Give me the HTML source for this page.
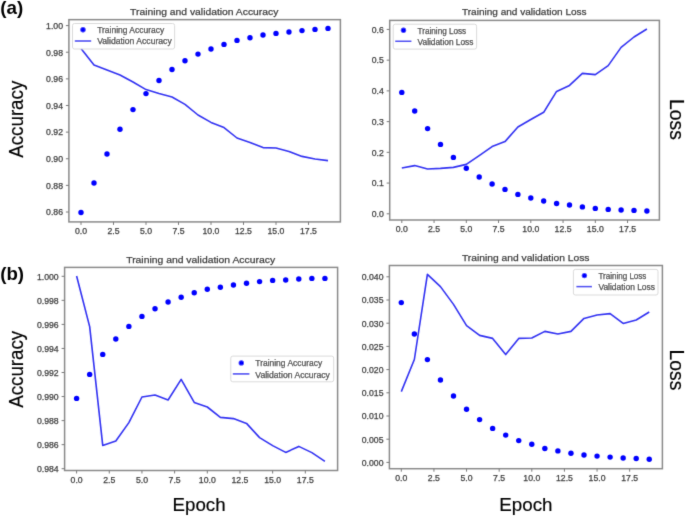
<!DOCTYPE html>
<html><head><meta charset="utf-8"><style>
html,body{margin:0;padding:0;background:#fff;}
body{width:685px;height:516px;overflow:hidden;}
svg{display:block;font-family:"Liberation Sans", sans-serif;}
</style></head><body>
<svg width="685" height="516" viewBox="0 0 685 516">
<rect width="685" height="516" fill="#fff"/>
<g filter="url(#soft)">
<rect x="68.90" y="19.65" width="271.50" height="202.25" fill="none" stroke="#8a8a8a" stroke-width="1.5"/>
<line x1="65.90" y1="25.60" x2="68.90" y2="25.60" stroke="#7a7a7a" stroke-width="1.0"/>
<text x="46.08" y="28.90" font-size="8.2" textLength="16.92" lengthAdjust="spacingAndGlyphs" fill="#3a3a3a" stroke="#444" stroke-width="0.25">1.00</text>
<line x1="65.90" y1="52.23" x2="68.90" y2="52.23" stroke="#7a7a7a" stroke-width="1.0"/>
<text x="46.08" y="55.53" font-size="8.2" textLength="16.92" lengthAdjust="spacingAndGlyphs" fill="#3a3a3a" stroke="#444" stroke-width="0.25">0.98</text>
<line x1="65.90" y1="78.86" x2="68.90" y2="78.86" stroke="#7a7a7a" stroke-width="1.0"/>
<text x="46.08" y="82.16" font-size="8.2" textLength="16.92" lengthAdjust="spacingAndGlyphs" fill="#3a3a3a" stroke="#444" stroke-width="0.25">0.96</text>
<line x1="65.90" y1="105.49" x2="68.90" y2="105.49" stroke="#7a7a7a" stroke-width="1.0"/>
<text x="46.08" y="108.79" font-size="8.2" textLength="16.92" lengthAdjust="spacingAndGlyphs" fill="#3a3a3a" stroke="#444" stroke-width="0.25">0.94</text>
<line x1="65.90" y1="132.12" x2="68.90" y2="132.12" stroke="#7a7a7a" stroke-width="1.0"/>
<text x="46.08" y="135.42" font-size="8.2" textLength="16.92" lengthAdjust="spacingAndGlyphs" fill="#3a3a3a" stroke="#444" stroke-width="0.25">0.92</text>
<line x1="65.90" y1="158.75" x2="68.90" y2="158.75" stroke="#7a7a7a" stroke-width="1.0"/>
<text x="46.08" y="162.05" font-size="8.2" textLength="16.92" lengthAdjust="spacingAndGlyphs" fill="#3a3a3a" stroke="#444" stroke-width="0.25">0.90</text>
<line x1="65.90" y1="185.38" x2="68.90" y2="185.38" stroke="#7a7a7a" stroke-width="1.0"/>
<text x="46.08" y="188.68" font-size="8.2" textLength="16.92" lengthAdjust="spacingAndGlyphs" fill="#3a3a3a" stroke="#444" stroke-width="0.25">0.88</text>
<line x1="65.90" y1="212.01" x2="68.90" y2="212.01" stroke="#7a7a7a" stroke-width="1.0"/>
<text x="46.08" y="215.31" font-size="8.2" textLength="16.92" lengthAdjust="spacingAndGlyphs" fill="#3a3a3a" stroke="#444" stroke-width="0.25">0.86</text>
<line x1="81.00" y1="221.90" x2="81.00" y2="224.90" stroke="#7a7a7a" stroke-width="1.0"/>
<text x="74.96" y="234.00" font-size="8.2" textLength="12.08" lengthAdjust="spacingAndGlyphs" fill="#3a3a3a" stroke="#444" stroke-width="0.25">0.0</text>
<line x1="113.50" y1="221.90" x2="113.50" y2="224.90" stroke="#7a7a7a" stroke-width="1.0"/>
<text x="107.46" y="234.00" font-size="8.2" textLength="12.08" lengthAdjust="spacingAndGlyphs" fill="#3a3a3a" stroke="#444" stroke-width="0.25">2.5</text>
<line x1="146.00" y1="221.90" x2="146.00" y2="224.90" stroke="#7a7a7a" stroke-width="1.0"/>
<text x="139.96" y="234.00" font-size="8.2" textLength="12.08" lengthAdjust="spacingAndGlyphs" fill="#3a3a3a" stroke="#444" stroke-width="0.25">5.0</text>
<line x1="178.50" y1="221.90" x2="178.50" y2="224.90" stroke="#7a7a7a" stroke-width="1.0"/>
<text x="172.46" y="234.00" font-size="8.2" textLength="12.08" lengthAdjust="spacingAndGlyphs" fill="#3a3a3a" stroke="#444" stroke-width="0.25">7.5</text>
<line x1="211.00" y1="221.90" x2="211.00" y2="224.90" stroke="#7a7a7a" stroke-width="1.0"/>
<text x="202.54" y="234.00" font-size="8.2" textLength="16.92" lengthAdjust="spacingAndGlyphs" fill="#3a3a3a" stroke="#444" stroke-width="0.25">10.0</text>
<line x1="243.50" y1="221.90" x2="243.50" y2="224.90" stroke="#7a7a7a" stroke-width="1.0"/>
<text x="235.04" y="234.00" font-size="8.2" textLength="16.92" lengthAdjust="spacingAndGlyphs" fill="#3a3a3a" stroke="#444" stroke-width="0.25">12.5</text>
<line x1="276.00" y1="221.90" x2="276.00" y2="224.90" stroke="#7a7a7a" stroke-width="1.0"/>
<text x="267.54" y="234.00" font-size="8.2" textLength="16.92" lengthAdjust="spacingAndGlyphs" fill="#3a3a3a" stroke="#444" stroke-width="0.25">15.0</text>
<line x1="308.50" y1="221.90" x2="308.50" y2="224.90" stroke="#7a7a7a" stroke-width="1.0"/>
<text x="300.04" y="234.00" font-size="8.2" textLength="16.92" lengthAdjust="spacingAndGlyphs" fill="#3a3a3a" stroke="#444" stroke-width="0.25">17.5</text>
<text x="130.10" y="15.00" font-size="9.8" textLength="148.20" lengthAdjust="spacingAndGlyphs" fill="#3a3a3a" stroke="#444" stroke-width="0.25">Training and validation Accuracy</text>
<polyline points="81.00,48.50 94.00,65.00 107.00,70.00 120.00,75.00 133.00,82.00 146.00,89.60 159.00,93.60 172.00,97.00 185.00,104.40 198.00,115.00 211.00,122.40 224.00,127.60 237.00,138.00 250.00,142.40 263.00,147.60 276.00,148.00 289.00,151.40 302.00,156.40 315.00,159.00 328.00,160.60" fill="none" stroke="#3232f2" stroke-width="1.6" stroke-linejoin="round"/>
<circle cx="81.00" cy="212.50" r="2.7" fill="#0000ff"/>
<circle cx="94.00" cy="183.00" r="2.7" fill="#0000ff"/>
<circle cx="107.00" cy="154.00" r="2.7" fill="#0000ff"/>
<circle cx="120.00" cy="129.30" r="2.7" fill="#0000ff"/>
<circle cx="133.00" cy="109.60" r="2.7" fill="#0000ff"/>
<circle cx="146.00" cy="93.60" r="2.7" fill="#0000ff"/>
<circle cx="159.00" cy="80.50" r="2.7" fill="#0000ff"/>
<circle cx="172.00" cy="69.50" r="2.7" fill="#0000ff"/>
<circle cx="185.00" cy="60.70" r="2.7" fill="#0000ff"/>
<circle cx="198.00" cy="54.10" r="2.7" fill="#0000ff"/>
<circle cx="211.00" cy="49.00" r="2.7" fill="#0000ff"/>
<circle cx="224.00" cy="44.40" r="2.7" fill="#0000ff"/>
<circle cx="237.00" cy="40.40" r="2.7" fill="#0000ff"/>
<circle cx="250.00" cy="37.80" r="2.7" fill="#0000ff"/>
<circle cx="263.00" cy="35.00" r="2.7" fill="#0000ff"/>
<circle cx="276.00" cy="33.40" r="2.7" fill="#0000ff"/>
<circle cx="289.00" cy="32.00" r="2.7" fill="#0000ff"/>
<circle cx="302.00" cy="30.60" r="2.7" fill="#0000ff"/>
<circle cx="315.00" cy="29.40" r="2.7" fill="#0000ff"/>
<circle cx="328.00" cy="28.40" r="2.7" fill="#0000ff"/>
<rect x="72.50" y="23.50" width="102.10" height="25.50" rx="2" fill="#fff" fill-opacity="0.85" stroke="#d6d6d6" stroke-width="0.9"/>
<circle cx="83.00" cy="29.70" r="2.7" fill="#0000ff"/>
<line x1="74.80" y1="41.00" x2="91.20" y2="41.00" stroke="#3232f2" stroke-width="1.5"/>
<text x="97.20" y="32.70" font-size="8.4" textLength="67.00" lengthAdjust="spacingAndGlyphs" fill="#3a3a3a" stroke="#444" stroke-width="0.25">Training Accuracy</text>
<text x="97.20" y="44.00" font-size="8.4" textLength="74.50" lengthAdjust="spacingAndGlyphs" fill="#3a3a3a" stroke="#444" stroke-width="0.25">Validation Accuracy</text>
<rect x="389.70" y="20.40" width="269.70" height="199.60" fill="none" stroke="#8a8a8a" stroke-width="1.5"/>
<line x1="386.70" y1="213.80" x2="389.70" y2="213.80" stroke="#7a7a7a" stroke-width="1.0"/>
<text x="371.72" y="217.10" font-size="8.2" textLength="12.08" lengthAdjust="spacingAndGlyphs" fill="#3a3a3a" stroke="#444" stroke-width="0.25">0.0</text>
<line x1="386.70" y1="183.07" x2="389.70" y2="183.07" stroke="#7a7a7a" stroke-width="1.0"/>
<text x="371.72" y="186.37" font-size="8.2" textLength="12.08" lengthAdjust="spacingAndGlyphs" fill="#3a3a3a" stroke="#444" stroke-width="0.25">0.1</text>
<line x1="386.70" y1="152.34" x2="389.70" y2="152.34" stroke="#7a7a7a" stroke-width="1.0"/>
<text x="371.72" y="155.64" font-size="8.2" textLength="12.08" lengthAdjust="spacingAndGlyphs" fill="#3a3a3a" stroke="#444" stroke-width="0.25">0.2</text>
<line x1="386.70" y1="121.61" x2="389.70" y2="121.61" stroke="#7a7a7a" stroke-width="1.0"/>
<text x="371.72" y="124.91" font-size="8.2" textLength="12.08" lengthAdjust="spacingAndGlyphs" fill="#3a3a3a" stroke="#444" stroke-width="0.25">0.3</text>
<line x1="386.70" y1="90.88" x2="389.70" y2="90.88" stroke="#7a7a7a" stroke-width="1.0"/>
<text x="371.72" y="94.18" font-size="8.2" textLength="12.08" lengthAdjust="spacingAndGlyphs" fill="#3a3a3a" stroke="#444" stroke-width="0.25">0.4</text>
<line x1="386.70" y1="60.15" x2="389.70" y2="60.15" stroke="#7a7a7a" stroke-width="1.0"/>
<text x="371.72" y="63.45" font-size="8.2" textLength="12.08" lengthAdjust="spacingAndGlyphs" fill="#3a3a3a" stroke="#444" stroke-width="0.25">0.5</text>
<line x1="386.70" y1="29.42" x2="389.70" y2="29.42" stroke="#7a7a7a" stroke-width="1.0"/>
<text x="371.72" y="32.72" font-size="8.2" textLength="12.08" lengthAdjust="spacingAndGlyphs" fill="#3a3a3a" stroke="#444" stroke-width="0.25">0.6</text>
<line x1="401.80" y1="220.00" x2="401.80" y2="223.00" stroke="#7a7a7a" stroke-width="1.0"/>
<text x="395.76" y="232.30" font-size="8.2" textLength="12.08" lengthAdjust="spacingAndGlyphs" fill="#3a3a3a" stroke="#444" stroke-width="0.25">0.0</text>
<line x1="434.05" y1="220.00" x2="434.05" y2="223.00" stroke="#7a7a7a" stroke-width="1.0"/>
<text x="428.01" y="232.30" font-size="8.2" textLength="12.08" lengthAdjust="spacingAndGlyphs" fill="#3a3a3a" stroke="#444" stroke-width="0.25">2.5</text>
<line x1="466.30" y1="220.00" x2="466.30" y2="223.00" stroke="#7a7a7a" stroke-width="1.0"/>
<text x="460.26" y="232.30" font-size="8.2" textLength="12.08" lengthAdjust="spacingAndGlyphs" fill="#3a3a3a" stroke="#444" stroke-width="0.25">5.0</text>
<line x1="498.55" y1="220.00" x2="498.55" y2="223.00" stroke="#7a7a7a" stroke-width="1.0"/>
<text x="492.51" y="232.30" font-size="8.2" textLength="12.08" lengthAdjust="spacingAndGlyphs" fill="#3a3a3a" stroke="#444" stroke-width="0.25">7.5</text>
<line x1="530.80" y1="220.00" x2="530.80" y2="223.00" stroke="#7a7a7a" stroke-width="1.0"/>
<text x="522.34" y="232.30" font-size="8.2" textLength="16.92" lengthAdjust="spacingAndGlyphs" fill="#3a3a3a" stroke="#444" stroke-width="0.25">10.0</text>
<line x1="563.05" y1="220.00" x2="563.05" y2="223.00" stroke="#7a7a7a" stroke-width="1.0"/>
<text x="554.59" y="232.30" font-size="8.2" textLength="16.92" lengthAdjust="spacingAndGlyphs" fill="#3a3a3a" stroke="#444" stroke-width="0.25">12.5</text>
<line x1="595.30" y1="220.00" x2="595.30" y2="223.00" stroke="#7a7a7a" stroke-width="1.0"/>
<text x="586.84" y="232.30" font-size="8.2" textLength="16.92" lengthAdjust="spacingAndGlyphs" fill="#3a3a3a" stroke="#444" stroke-width="0.25">15.0</text>
<line x1="627.55" y1="220.00" x2="627.55" y2="223.00" stroke="#7a7a7a" stroke-width="1.0"/>
<text x="619.09" y="232.30" font-size="8.2" textLength="16.92" lengthAdjust="spacingAndGlyphs" fill="#3a3a3a" stroke="#444" stroke-width="0.25">17.5</text>
<text x="462.00" y="15.40" font-size="9.8" textLength="124.60" lengthAdjust="spacingAndGlyphs" fill="#3a3a3a" stroke="#444" stroke-width="0.25">Training and validation Loss</text>
<polyline points="401.80,168.00 414.70,165.60 427.60,169.00 440.50,168.40 453.40,167.40 466.30,164.40 479.20,155.60 492.10,146.60 505.00,141.60 517.90,127.00 530.80,119.50 543.70,112.30 556.60,91.40 569.50,85.40 582.40,73.40 595.30,74.60 608.20,65.60 621.10,47.40 634.00,37.00 646.90,29.00" fill="none" stroke="#3232f2" stroke-width="1.6" stroke-linejoin="round"/>
<circle cx="401.80" cy="92.40" r="2.7" fill="#0000ff"/>
<circle cx="414.70" cy="111.00" r="2.7" fill="#0000ff"/>
<circle cx="427.60" cy="128.60" r="2.7" fill="#0000ff"/>
<circle cx="440.50" cy="144.40" r="2.7" fill="#0000ff"/>
<circle cx="453.40" cy="157.40" r="2.7" fill="#0000ff"/>
<circle cx="466.30" cy="168.20" r="2.7" fill="#0000ff"/>
<circle cx="479.20" cy="177.00" r="2.7" fill="#0000ff"/>
<circle cx="492.10" cy="184.00" r="2.7" fill="#0000ff"/>
<circle cx="505.00" cy="189.40" r="2.7" fill="#0000ff"/>
<circle cx="517.90" cy="194.40" r="2.7" fill="#0000ff"/>
<circle cx="530.80" cy="198.00" r="2.7" fill="#0000ff"/>
<circle cx="543.70" cy="201.00" r="2.7" fill="#0000ff"/>
<circle cx="556.60" cy="203.50" r="2.7" fill="#0000ff"/>
<circle cx="569.50" cy="205.00" r="2.7" fill="#0000ff"/>
<circle cx="582.40" cy="206.90" r="2.7" fill="#0000ff"/>
<circle cx="595.30" cy="208.40" r="2.7" fill="#0000ff"/>
<circle cx="608.20" cy="209.40" r="2.7" fill="#0000ff"/>
<circle cx="621.10" cy="210.00" r="2.7" fill="#0000ff"/>
<circle cx="634.00" cy="210.40" r="2.7" fill="#0000ff"/>
<circle cx="646.90" cy="211.00" r="2.7" fill="#0000ff"/>
<rect x="393.20" y="24.20" width="83.40" height="24.90" rx="2" fill="#fff" fill-opacity="0.85" stroke="#d6d6d6" stroke-width="0.9"/>
<circle cx="403.50" cy="30.30" r="2.7" fill="#0000ff"/>
<line x1="395.20" y1="41.30" x2="411.40" y2="41.30" stroke="#3232f2" stroke-width="1.5"/>
<text x="417.60" y="33.60" font-size="8.4" textLength="48.60" lengthAdjust="spacingAndGlyphs" fill="#3a3a3a" stroke="#444" stroke-width="0.25">Training Loss</text>
<text x="417.60" y="44.60" font-size="8.4" textLength="55.80" lengthAdjust="spacingAndGlyphs" fill="#3a3a3a" stroke="#444" stroke-width="0.25">Validation Loss</text>
<rect x="64.60" y="267.40" width="273.00" height="203.10" fill="none" stroke="#8a8a8a" stroke-width="1.5"/>
<line x1="61.60" y1="276.30" x2="64.60" y2="276.30" stroke="#7a7a7a" stroke-width="1.0"/>
<text x="36.95" y="279.60" font-size="8.2" textLength="21.75" lengthAdjust="spacingAndGlyphs" fill="#3a3a3a" stroke="#444" stroke-width="0.25">1.000</text>
<line x1="61.60" y1="300.35" x2="64.60" y2="300.35" stroke="#7a7a7a" stroke-width="1.0"/>
<text x="36.95" y="303.65" font-size="8.2" textLength="21.75" lengthAdjust="spacingAndGlyphs" fill="#3a3a3a" stroke="#444" stroke-width="0.25">0.998</text>
<line x1="61.60" y1="324.40" x2="64.60" y2="324.40" stroke="#7a7a7a" stroke-width="1.0"/>
<text x="36.95" y="327.70" font-size="8.2" textLength="21.75" lengthAdjust="spacingAndGlyphs" fill="#3a3a3a" stroke="#444" stroke-width="0.25">0.996</text>
<line x1="61.60" y1="348.45" x2="64.60" y2="348.45" stroke="#7a7a7a" stroke-width="1.0"/>
<text x="36.95" y="351.75" font-size="8.2" textLength="21.75" lengthAdjust="spacingAndGlyphs" fill="#3a3a3a" stroke="#444" stroke-width="0.25">0.994</text>
<line x1="61.60" y1="372.50" x2="64.60" y2="372.50" stroke="#7a7a7a" stroke-width="1.0"/>
<text x="36.95" y="375.80" font-size="8.2" textLength="21.75" lengthAdjust="spacingAndGlyphs" fill="#3a3a3a" stroke="#444" stroke-width="0.25">0.992</text>
<line x1="61.60" y1="396.55" x2="64.60" y2="396.55" stroke="#7a7a7a" stroke-width="1.0"/>
<text x="36.95" y="399.85" font-size="8.2" textLength="21.75" lengthAdjust="spacingAndGlyphs" fill="#3a3a3a" stroke="#444" stroke-width="0.25">0.990</text>
<line x1="61.60" y1="420.60" x2="64.60" y2="420.60" stroke="#7a7a7a" stroke-width="1.0"/>
<text x="36.95" y="423.90" font-size="8.2" textLength="21.75" lengthAdjust="spacingAndGlyphs" fill="#3a3a3a" stroke="#444" stroke-width="0.25">0.988</text>
<line x1="61.60" y1="444.65" x2="64.60" y2="444.65" stroke="#7a7a7a" stroke-width="1.0"/>
<text x="36.95" y="447.95" font-size="8.2" textLength="21.75" lengthAdjust="spacingAndGlyphs" fill="#3a3a3a" stroke="#444" stroke-width="0.25">0.986</text>
<line x1="61.60" y1="468.70" x2="64.60" y2="468.70" stroke="#7a7a7a" stroke-width="1.0"/>
<text x="36.95" y="472.00" font-size="8.2" textLength="21.75" lengthAdjust="spacingAndGlyphs" fill="#3a3a3a" stroke="#444" stroke-width="0.25">0.984</text>
<line x1="76.60" y1="470.50" x2="76.60" y2="473.50" stroke="#7a7a7a" stroke-width="1.0"/>
<text x="70.56" y="482.90" font-size="8.2" textLength="12.08" lengthAdjust="spacingAndGlyphs" fill="#3a3a3a" stroke="#444" stroke-width="0.25">0.0</text>
<line x1="109.27" y1="470.50" x2="109.27" y2="473.50" stroke="#7a7a7a" stroke-width="1.0"/>
<text x="103.23" y="482.90" font-size="8.2" textLength="12.08" lengthAdjust="spacingAndGlyphs" fill="#3a3a3a" stroke="#444" stroke-width="0.25">2.5</text>
<line x1="141.95" y1="470.50" x2="141.95" y2="473.50" stroke="#7a7a7a" stroke-width="1.0"/>
<text x="135.91" y="482.90" font-size="8.2" textLength="12.08" lengthAdjust="spacingAndGlyphs" fill="#3a3a3a" stroke="#444" stroke-width="0.25">5.0</text>
<line x1="174.62" y1="470.50" x2="174.62" y2="473.50" stroke="#7a7a7a" stroke-width="1.0"/>
<text x="168.58" y="482.90" font-size="8.2" textLength="12.08" lengthAdjust="spacingAndGlyphs" fill="#3a3a3a" stroke="#444" stroke-width="0.25">7.5</text>
<line x1="207.30" y1="470.50" x2="207.30" y2="473.50" stroke="#7a7a7a" stroke-width="1.0"/>
<text x="198.84" y="482.90" font-size="8.2" textLength="16.92" lengthAdjust="spacingAndGlyphs" fill="#3a3a3a" stroke="#444" stroke-width="0.25">10.0</text>
<line x1="239.97" y1="470.50" x2="239.97" y2="473.50" stroke="#7a7a7a" stroke-width="1.0"/>
<text x="231.52" y="482.90" font-size="8.2" textLength="16.92" lengthAdjust="spacingAndGlyphs" fill="#3a3a3a" stroke="#444" stroke-width="0.25">12.5</text>
<line x1="272.65" y1="470.50" x2="272.65" y2="473.50" stroke="#7a7a7a" stroke-width="1.0"/>
<text x="264.19" y="482.90" font-size="8.2" textLength="16.92" lengthAdjust="spacingAndGlyphs" fill="#3a3a3a" stroke="#444" stroke-width="0.25">15.0</text>
<line x1="305.32" y1="470.50" x2="305.32" y2="473.50" stroke="#7a7a7a" stroke-width="1.0"/>
<text x="296.87" y="482.90" font-size="8.2" textLength="16.92" lengthAdjust="spacingAndGlyphs" fill="#3a3a3a" stroke="#444" stroke-width="0.25">17.5</text>
<text x="126.20" y="262.90" font-size="9.8" textLength="148.90" lengthAdjust="spacingAndGlyphs" fill="#3a3a3a" stroke="#444" stroke-width="0.25">Training and validation Accuracy</text>
<polyline points="76.60,276.00 89.67,326.60 102.74,445.40 115.81,441.00 128.88,422.60 141.95,397.00 155.02,395.00 168.09,400.00 181.16,379.40 194.23,402.40 207.30,407.00 220.37,417.40 233.44,418.60 246.51,423.40 259.58,437.60 272.65,445.60 285.72,452.40 298.79,446.40 311.86,452.60 324.93,461.40" fill="none" stroke="#3232f2" stroke-width="1.6" stroke-linejoin="round"/>
<circle cx="76.60" cy="398.40" r="2.7" fill="#0000ff"/>
<circle cx="89.67" cy="374.40" r="2.7" fill="#0000ff"/>
<circle cx="102.74" cy="354.40" r="2.7" fill="#0000ff"/>
<circle cx="115.81" cy="339.00" r="2.7" fill="#0000ff"/>
<circle cx="128.88" cy="326.40" r="2.7" fill="#0000ff"/>
<circle cx="141.95" cy="316.40" r="2.7" fill="#0000ff"/>
<circle cx="155.02" cy="308.80" r="2.7" fill="#0000ff"/>
<circle cx="168.09" cy="302.00" r="2.7" fill="#0000ff"/>
<circle cx="181.16" cy="297.20" r="2.7" fill="#0000ff"/>
<circle cx="194.23" cy="292.80" r="2.7" fill="#0000ff"/>
<circle cx="207.30" cy="289.20" r="2.7" fill="#0000ff"/>
<circle cx="220.37" cy="287.20" r="2.7" fill="#0000ff"/>
<circle cx="233.44" cy="285.00" r="2.7" fill="#0000ff"/>
<circle cx="246.51" cy="283.20" r="2.7" fill="#0000ff"/>
<circle cx="259.58" cy="281.60" r="2.7" fill="#0000ff"/>
<circle cx="272.65" cy="280.40" r="2.7" fill="#0000ff"/>
<circle cx="285.72" cy="280.00" r="2.7" fill="#0000ff"/>
<circle cx="298.79" cy="279.00" r="2.7" fill="#0000ff"/>
<circle cx="311.86" cy="278.40" r="2.7" fill="#0000ff"/>
<circle cx="324.93" cy="278.40" r="2.7" fill="#0000ff"/>
<rect x="230.80" y="356.10" width="102.90" height="25.70" rx="2" fill="#fff" fill-opacity="0.85" stroke="#d6d6d6" stroke-width="0.9"/>
<circle cx="241.30" cy="362.90" r="2.7" fill="#0000ff"/>
<line x1="232.80" y1="373.90" x2="249.40" y2="373.90" stroke="#3232f2" stroke-width="1.5"/>
<text x="255.30" y="366.00" font-size="8.4" textLength="66.90" lengthAdjust="spacingAndGlyphs" fill="#3a3a3a" stroke="#444" stroke-width="0.25">Training Accuracy</text>
<text x="255.30" y="377.50" font-size="8.4" textLength="74.50" lengthAdjust="spacingAndGlyphs" fill="#3a3a3a" stroke="#444" stroke-width="0.25">Validation Accuracy</text>
<rect x="389.40" y="265.50" width="273.00" height="203.20" fill="none" stroke="#8a8a8a" stroke-width="1.5"/>
<line x1="386.40" y1="462.40" x2="389.40" y2="462.40" stroke="#7a7a7a" stroke-width="1.0"/>
<text x="361.75" y="465.70" font-size="8.2" textLength="21.75" lengthAdjust="spacingAndGlyphs" fill="#3a3a3a" stroke="#444" stroke-width="0.25">0.000</text>
<line x1="386.40" y1="439.20" x2="389.40" y2="439.20" stroke="#7a7a7a" stroke-width="1.0"/>
<text x="361.75" y="442.50" font-size="8.2" textLength="21.75" lengthAdjust="spacingAndGlyphs" fill="#3a3a3a" stroke="#444" stroke-width="0.25">0.005</text>
<line x1="386.40" y1="416.00" x2="389.40" y2="416.00" stroke="#7a7a7a" stroke-width="1.0"/>
<text x="361.75" y="419.30" font-size="8.2" textLength="21.75" lengthAdjust="spacingAndGlyphs" fill="#3a3a3a" stroke="#444" stroke-width="0.25">0.010</text>
<line x1="386.40" y1="392.80" x2="389.40" y2="392.80" stroke="#7a7a7a" stroke-width="1.0"/>
<text x="361.75" y="396.10" font-size="8.2" textLength="21.75" lengthAdjust="spacingAndGlyphs" fill="#3a3a3a" stroke="#444" stroke-width="0.25">0.015</text>
<line x1="386.40" y1="369.60" x2="389.40" y2="369.60" stroke="#7a7a7a" stroke-width="1.0"/>
<text x="361.75" y="372.90" font-size="8.2" textLength="21.75" lengthAdjust="spacingAndGlyphs" fill="#3a3a3a" stroke="#444" stroke-width="0.25">0.020</text>
<line x1="386.40" y1="346.40" x2="389.40" y2="346.40" stroke="#7a7a7a" stroke-width="1.0"/>
<text x="361.75" y="349.70" font-size="8.2" textLength="21.75" lengthAdjust="spacingAndGlyphs" fill="#3a3a3a" stroke="#444" stroke-width="0.25">0.025</text>
<line x1="386.40" y1="323.20" x2="389.40" y2="323.20" stroke="#7a7a7a" stroke-width="1.0"/>
<text x="361.75" y="326.50" font-size="8.2" textLength="21.75" lengthAdjust="spacingAndGlyphs" fill="#3a3a3a" stroke="#444" stroke-width="0.25">0.030</text>
<line x1="386.40" y1="300.00" x2="389.40" y2="300.00" stroke="#7a7a7a" stroke-width="1.0"/>
<text x="361.75" y="303.30" font-size="8.2" textLength="21.75" lengthAdjust="spacingAndGlyphs" fill="#3a3a3a" stroke="#444" stroke-width="0.25">0.035</text>
<line x1="386.40" y1="276.80" x2="389.40" y2="276.80" stroke="#7a7a7a" stroke-width="1.0"/>
<text x="361.75" y="280.10" font-size="8.2" textLength="21.75" lengthAdjust="spacingAndGlyphs" fill="#3a3a3a" stroke="#444" stroke-width="0.25">0.040</text>
<line x1="401.30" y1="468.70" x2="401.30" y2="471.70" stroke="#7a7a7a" stroke-width="1.0"/>
<text x="395.26" y="481.00" font-size="8.2" textLength="12.08" lengthAdjust="spacingAndGlyphs" fill="#3a3a3a" stroke="#444" stroke-width="0.25">0.0</text>
<line x1="433.93" y1="468.70" x2="433.93" y2="471.70" stroke="#7a7a7a" stroke-width="1.0"/>
<text x="427.88" y="481.00" font-size="8.2" textLength="12.08" lengthAdjust="spacingAndGlyphs" fill="#3a3a3a" stroke="#444" stroke-width="0.25">2.5</text>
<line x1="466.55" y1="468.70" x2="466.55" y2="471.70" stroke="#7a7a7a" stroke-width="1.0"/>
<text x="460.51" y="481.00" font-size="8.2" textLength="12.08" lengthAdjust="spacingAndGlyphs" fill="#3a3a3a" stroke="#444" stroke-width="0.25">5.0</text>
<line x1="499.18" y1="468.70" x2="499.18" y2="471.70" stroke="#7a7a7a" stroke-width="1.0"/>
<text x="493.13" y="481.00" font-size="8.2" textLength="12.08" lengthAdjust="spacingAndGlyphs" fill="#3a3a3a" stroke="#444" stroke-width="0.25">7.5</text>
<line x1="531.80" y1="468.70" x2="531.80" y2="471.70" stroke="#7a7a7a" stroke-width="1.0"/>
<text x="523.34" y="481.00" font-size="8.2" textLength="16.92" lengthAdjust="spacingAndGlyphs" fill="#3a3a3a" stroke="#444" stroke-width="0.25">10.0</text>
<line x1="564.42" y1="468.70" x2="564.42" y2="471.70" stroke="#7a7a7a" stroke-width="1.0"/>
<text x="555.97" y="481.00" font-size="8.2" textLength="16.92" lengthAdjust="spacingAndGlyphs" fill="#3a3a3a" stroke="#444" stroke-width="0.25">12.5</text>
<line x1="597.05" y1="468.70" x2="597.05" y2="471.70" stroke="#7a7a7a" stroke-width="1.0"/>
<text x="588.59" y="481.00" font-size="8.2" textLength="16.92" lengthAdjust="spacingAndGlyphs" fill="#3a3a3a" stroke="#444" stroke-width="0.25">15.0</text>
<line x1="629.67" y1="468.70" x2="629.67" y2="471.70" stroke="#7a7a7a" stroke-width="1.0"/>
<text x="621.22" y="481.00" font-size="8.2" textLength="16.92" lengthAdjust="spacingAndGlyphs" fill="#3a3a3a" stroke="#444" stroke-width="0.25">17.5</text>
<text x="461.90" y="261.00" font-size="9.8" textLength="127.60" lengthAdjust="spacingAndGlyphs" fill="#3a3a3a" stroke="#444" stroke-width="0.25">Training and validation Loss</text>
<polyline points="401.30,391.60 414.35,359.50 427.40,274.40 440.45,286.60 453.50,304.40 466.55,325.60 479.60,335.40 492.65,338.40 505.70,354.60 518.75,338.40 531.80,338.00 544.85,331.40 557.90,334.00 570.95,331.40 584.00,318.40 597.05,315.00 610.10,313.60 623.15,323.40 636.20,320.00 649.25,312.00" fill="none" stroke="#3232f2" stroke-width="1.6" stroke-linejoin="round"/>
<circle cx="401.30" cy="302.60" r="2.7" fill="#0000ff"/>
<circle cx="414.35" cy="334.00" r="2.7" fill="#0000ff"/>
<circle cx="427.40" cy="359.60" r="2.7" fill="#0000ff"/>
<circle cx="440.45" cy="380.00" r="2.7" fill="#0000ff"/>
<circle cx="453.50" cy="396.00" r="2.7" fill="#0000ff"/>
<circle cx="466.55" cy="409.20" r="2.7" fill="#0000ff"/>
<circle cx="479.60" cy="419.60" r="2.7" fill="#0000ff"/>
<circle cx="492.65" cy="428.40" r="2.7" fill="#0000ff"/>
<circle cx="505.70" cy="435.10" r="2.7" fill="#0000ff"/>
<circle cx="518.75" cy="440.60" r="2.7" fill="#0000ff"/>
<circle cx="531.80" cy="444.30" r="2.7" fill="#0000ff"/>
<circle cx="544.85" cy="448.50" r="2.7" fill="#0000ff"/>
<circle cx="557.90" cy="450.90" r="2.7" fill="#0000ff"/>
<circle cx="570.95" cy="453.30" r="2.7" fill="#0000ff"/>
<circle cx="584.00" cy="455.00" r="2.7" fill="#0000ff"/>
<circle cx="597.05" cy="456.10" r="2.7" fill="#0000ff"/>
<circle cx="610.10" cy="457.10" r="2.7" fill="#0000ff"/>
<circle cx="623.15" cy="458.00" r="2.7" fill="#0000ff"/>
<circle cx="636.20" cy="458.50" r="2.7" fill="#0000ff"/>
<circle cx="649.25" cy="459.20" r="2.7" fill="#0000ff"/>
<rect x="573.40" y="269.40" width="84.60" height="25.60" rx="2" fill="#fff" fill-opacity="0.85" stroke="#d6d6d6" stroke-width="0.9"/>
<circle cx="584.40" cy="275.60" r="2.7" fill="#0000ff"/>
<line x1="576.40" y1="286.60" x2="592.00" y2="286.60" stroke="#3232f2" stroke-width="1.5"/>
<text x="598.40" y="278.80" font-size="8.4" textLength="48.00" lengthAdjust="spacingAndGlyphs" fill="#3a3a3a" stroke="#444" stroke-width="0.25">Training Loss</text>
<text x="598.40" y="290.20" font-size="8.4" textLength="56.60" lengthAdjust="spacingAndGlyphs" fill="#3a3a3a" stroke="#444" stroke-width="0.25">Validation Loss</text>
<text transform="translate(23.30,119.25) rotate(-90)" x="0" y="0" font-size="19.4" text-anchor="middle" textLength="77.10" lengthAdjust="spacingAndGlyphs" fill="#000" stroke="#000" stroke-width="0.2">Accuracy</text>
<text transform="translate(23.30,369.30) rotate(-90)" x="0" y="0" font-size="19.4" text-anchor="middle" textLength="77.10" lengthAdjust="spacingAndGlyphs" fill="#000" stroke="#000" stroke-width="0.2">Accuracy</text>
<text transform="translate(670.40,119.50) rotate(90)" x="0" y="0" font-size="20.0" text-anchor="middle" textLength="40.80" lengthAdjust="spacingAndGlyphs" fill="#000" stroke="#000" stroke-width="0.2">Loss</text>
<text transform="translate(670.40,370.00) rotate(90)" x="0" y="0" font-size="20.0" text-anchor="middle" textLength="40.80" lengthAdjust="spacingAndGlyphs" fill="#000" stroke="#000" stroke-width="0.2">Loss</text>
<text x="172.60" y="511.20" font-size="19.2" textLength="53.00" lengthAdjust="spacingAndGlyphs" fill="#000" stroke="#000" stroke-width="0.2">Epoch</text>
<text x="499.30" y="511.20" font-size="19.2" textLength="53.20" lengthAdjust="spacingAndGlyphs" fill="#000" stroke="#000" stroke-width="0.2">Epoch</text>
<text x="0.20" y="14.30" font-size="18.4" textLength="23.00" lengthAdjust="spacingAndGlyphs" font-weight="bold" fill="#000">(a)</text>
<text x="0.20" y="280.00" font-size="18.4" textLength="23.80" lengthAdjust="spacingAndGlyphs" font-weight="bold" fill="#000">(b)</text>
</g>
<defs><filter id="soft" x="0" y="0" width="685" height="516" filterUnits="userSpaceOnUse"><feConvolveMatrix order="3" kernelMatrix="0.0114 0.084 0.0114 0.084 0.618 0.084 0.0114 0.084 0.0114" divisor="1" edgeMode="none" preserveAlpha="false"/></filter></defs>
</svg>
</body></html>
